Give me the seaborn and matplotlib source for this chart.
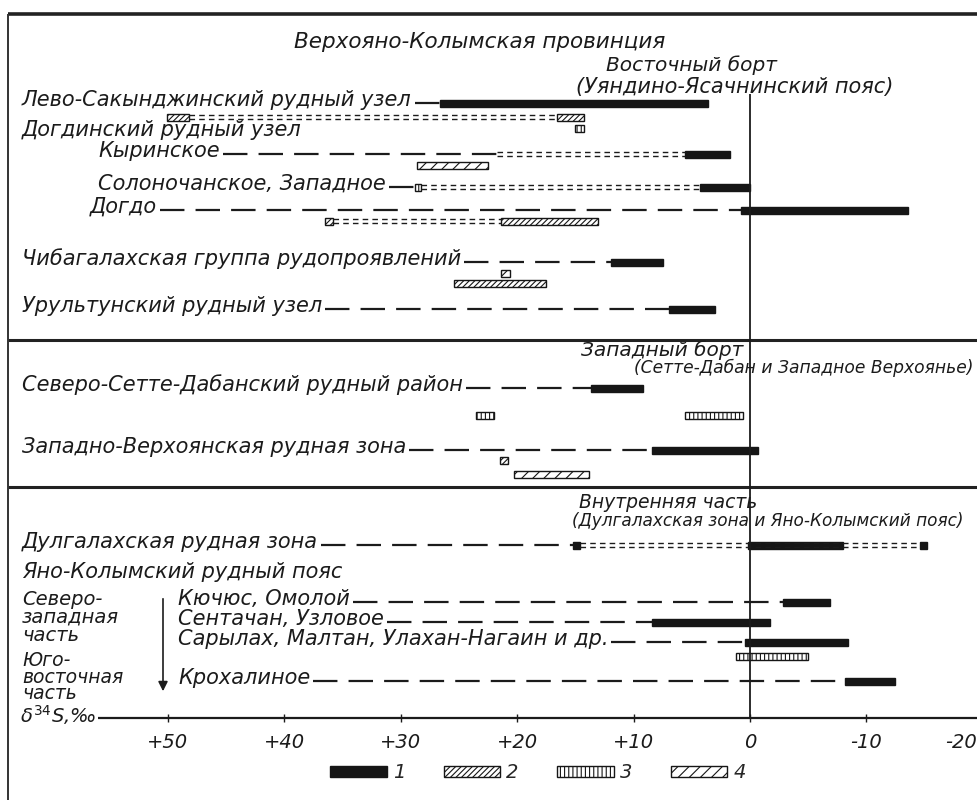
import matplotlib
matplotlib.use('Agg')
import matplotlib.pyplot as plt
import seaborn as sns
from matplotlib.patches import Patch

sns.set_theme(style='white')
plt.rcParams['font.family'] = ['DejaVu Sans']
plt.rcParams['hatch.linewidth'] = 0.8

# --- data: delta34S values, permil ---
row_lane = ['lev', 'dogd', 'kyr', 'sol', 'dog', 'chib', 'uru',
            'sse', 'zv',
            'dul', 'yano', 'kyu', 'sen', 'sar', 'kro']
row_labels = ['Лево-Сакынджинский рудный узел', 'Догдинский рудный узел',
              'Кыринское', 'Солоночанское, Западное', 'Догдо',
              'Чибагалахская группа рудопроявлений', 'Урультунский рудный узел',
              'Северо-Сетте-Дабанский рудный район',
              'Западно-Верхоянская рудная зона',
              'Дулгалахская рудная зона', 'Яно-Колымский рудный пояс',
              'Кючюс, Омолой', 'Сентачан, Узловое',
              'Сарылах, Малтан, Улахан-Нагаин и др.', 'Крохалиное']

bar_lane = ['lev', 'lev_b', 'lev_b', 'lev_c', 'kyr', 'kyr_b', 'sol', 'sol',
            'dog', 'dog_b', 'dog_b', 'chib', 'chib_b', 'chib_c', 'uru',
            'sse', 'sse_b', 'sse_b', 'zv', 'zv_b', 'zv_c',
            'dul', 'dul', 'dul', 'kyu', 'sen', 'sar', 'sar_b', 'kro']
bar_type = [1, 2, 2, 3, 1, 4, 3, 1,
            1, 2, 2, 1, 4, 2, 1,
            1, 3, 3, 1, 2, 4,
            1, 1, 1, 1, 1, 1, 3, 1]
bar_from = [26.6, 50.1, 16.6, 15.0, 5.6, 28.6, 28.8, 4.3,
            0.8, 36.5, 21.4, 11.9, 21.4, 25.4, 7.0,
            13.7, 23.5, 5.6, 8.4, 21.5, 20.3,
            15.2, 0.2, -14.6, -2.8, 8.4, 0.4, 1.2, -8.2]
bar_to = [3.6, 48.2, 14.3, 14.3, 1.7, 22.5, 28.3, 0.0,
          -13.6, 35.8, 13.1, 7.5, 20.6, 17.5, 3.0,
          9.2, 22.0, 0.6, -0.7, 20.8, 13.8,
          14.6, -8.0, -15.2, -6.9, -1.7, -8.4, -5.0, -12.5]

# sparse-data ranges (double dashed)
dash_lane = ['lev_b', 'kyr', 'sol', 'dog_b', 'dul']
dash_from = [48.2, 21.7, 28.3, 35.8, 14.6]
dash_to = [16.6, 5.6, 4.3, 21.4, -14.6]

tick_vals = [50, 40, 30, 20, 10, 0, -10, -20]
tick_labels = ['+50', '+40', '+30', '+20', '+10', '0', '-10', '-20']
legend_labels = ['1', '2', '3', '4']

# --- layout (pixels) ---
lane_y = {'lev': 103, 'lev_b': 117, 'lev_c': 128, 'dogd': 133,
          'kyr': 154, 'kyr_b': 165, 'sol': 187, 'dog': 210, 'dog_b': 221,
          'chib': 262, 'chib_b': 273, 'chib_c': 283, 'uru': 309,
          'sse': 388, 'sse_b': 415, 'zv': 450, 'zv_b': 460, 'zv_c': 474,
          'dul': 545, 'yano': 575, 'kyu': 602, 'sen': 622, 'sar': 642,
          'sar_b': 656, 'kro': 681}
label_x = {'lev': 22, 'dogd': 22, 'kyr': 98, 'sol': 98, 'dog': 90,
           'chib': 22, 'uru': 22, 'sse': 22, 'zv': 22, 'dul': 22,
           'yano': 22, 'kyu': 178, 'sen': 178, 'sar': 178, 'kro': 178}
no_leader = ['dogd', 'yano']

W, H = 977, 800
ZERO_PX, SCALE = 750, 11.64


def px(x):
    return (ZERO_PX - x) / SCALE


styles = {
    1: dict(facecolor='#161616', edgecolor='#161616', hatch=None),
    2: dict(facecolor='white', edgecolor='#161616', hatch='//////'),
    3: dict(facecolor='white', edgecolor='#161616', hatch='||||'),
    4: dict(facecolor='white', edgecolor='#161616', hatch='///'),
}
ink = '#1b1b1b'


def tf(size):
    return dict(fontsize=size, fontstyle='italic', color=ink)


fig = plt.figure(figsize=(W / 100, H / 100), dpi=100)
ax = fig.add_axes([0, 0, 1, 1])
ax.set_xlim(px(0), px(W))
ax.set_ylim(H, 0)
ax.axis('off')

# frame and panel separators
ax.hlines([14], px(8), px(W), color='#222', lw=2.6)
ax.hlines([340, 487], px(8), px(W), color='#222', lw=2.2)
ax.vlines(px(8), 14, H, color='#333', lw=1.4)

# zero line
ax.vlines(0, 94, 718, color=ink, lw=1.3)

# bars
for lane, t, a, b in zip(bar_lane, bar_type, bar_from, bar_to):
    st = styles[t]
    ax.barh(lane_y[lane], b - a, left=a, height=7, linewidth=1.0, **st)

# sparse ranges as double dashed lines
for lane, a, b in zip(dash_lane, dash_from, dash_to):
    y = lane_y[lane]
    ax.hlines([y - 1.8, y + 1.8], a, b, color=ink, lw=1.0,
              linestyles=[(0, (4, 3))])

# row labels and leaders
texts = {}
for lane, lab in zip(row_lane, row_labels):
    texts[lane] = ax.text(px(label_x[lane]), lane_y[lane] + 3, lab,
                          va='baseline', ha='left', **tf(15))
fig.canvas.draw()
inv = ax.transData.inverted()
for lane in row_lane:
    if lane in no_leader:
        continue
    bb = texts[lane].get_window_extent()
    start = inv.transform((bb.x1 + 3, 0))[0]
    starts = [a for l, a in zip(bar_lane, bar_from) if l == lane]
    starts += [a for l, a in zip(dash_lane, dash_from) if l == lane]
    ax.hlines(lane_y[lane], start, max(starts), color=ink, lw=1.6,
              linestyles=[(0, (11, 5))])

# headers
ax.text(px(480), 42, 'Верхояно-Колымская провинция', ha='center', va='center', **tf(15.5))
ax.text(px(692), 65, 'Восточный борт', ha='center', va='center', **tf(14.5))
ax.text(px(735), 87, '(Уяндино-Ясачнинский пояс)', ha='center', va='center', **tf(15))
ax.text(px(662), 350, 'Западный борт', ha='center', va='center', **tf(14.5))
ax.text(px(804), 368, '(Сетте-Дабан и Западное Верхоянье)', ha='center', va='center', **tf(12.3))
ax.text(px(668), 503, 'Внутренняя часть', ha='center', va='center', **tf(13.5))
ax.text(px(768), 521, '(Дулгалахская зона и Яно-Колымский пояс)', ha='center', va='center', **tf(12.2))

# sub-region notes with arrow
ax.text(px(22), 590, 'Северо-\nзападная\nчасть', ha='left', va='top',
        linespacing=0.92, **tf(14))
ax.text(px(22), 651, 'Юго-\nвосточная\nчасть', ha='left', va='top',
        linespacing=0.84, **tf(13.5))
ax.annotate('', xy=(px(163), 694), xytext=(px(163), 596),
            arrowprops=dict(arrowstyle='-|>', lw=1.2, color=ink,
                            mutation_scale=14))

# delta axis
ax.hlines(718, px(98), px(W), color=ink, lw=1.6)
ax.vlines(tick_vals, 714, 722, color=ink, lw=1.0)
xr = ax.get_xlim()[1]
for v, lab in zip(tick_vals, tick_labels):
    if v < xr:
        ax.text(xr, 742, lab, ha='right', va='center', **tf(14))
    else:
        ax.text(v, 742, lab, ha='center', va='center', **tf(14))
ax.text(px(20), 723, r'$\delta^{34}$S,‰', ha='left', va='baseline', **tf(14))

# legend
handles = [Patch(linewidth=1.0, **styles[k]) for k in (1, 2, 3, 4)]
ax.legend(handles, legend_labels, loc='center', ncol=4, frameon=False,
          bbox_to_anchor=(538 / W, 1 - 773 / H), handlelength=2.9,
          handleheight=0.45, handletextpad=0.3, columnspacing=2.0,
          prop=dict(size=14, style='italic'))

fig.savefig('out.png', dpi=100)
